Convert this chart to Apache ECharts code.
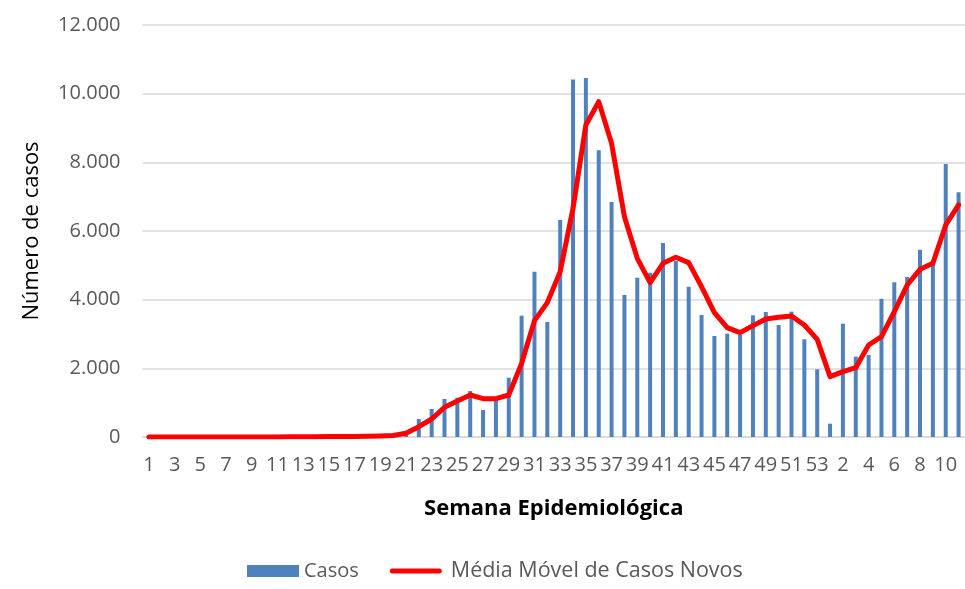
<!DOCTYPE html>
<html>
<head>
<meta charset="utf-8">
<script src="https://cdn.jsdelivr.net/npm/echarts@6/dist/echarts.min.js"></script>
<style>
  html, body { margin: 0; padding: 0; background: #fff; }
  #chart { width: 965px; height: 589px; }
</style>
</head>
<body>
<div id="chart"></div>
<script>
// semanas epidemiológicas: 1..53 do primeiro ano, depois 1..11 do segundo
const semanas = [];
for (let i = 1; i <= 53; i++) semanas.push(String(i));
for (let i = 1; i <= 11; i++) semanas.push(String(i));

const casos = [
  0, 0, 0, 0, 0, 0, 0, 0, 0, 0,
  5, 5, 10, 10, 15, 20, 25, 30, 40, 60,
  120, 524, 816, 1107, 1145, 1340, 787, 1127, 1728, 3534,
  4816, 3350, 6321, 10410, 10458, 8350, 6846, 4137, 4641, 4787,
  5651, 5127, 4379, 3554, 2942, 3010, 2971, 3545, 3641, 3263,
  3651, 2845, 1971,
  388, 3301, 2340, 2389, 4030, 4506, 4661, 5457, 5108, 7953, 7128
];

const mediaMovel = [
  0, 0, 0, 0, 0, 0, 0, 0, 0, 2,
  3, 5, 7, 9, 12, 15, 18, 22, 30, 45,
  107, 301, 524, 864, 1049, 1223, 1117, 1117, 1223, 2146,
  3389, 3913, 4816, 6661, 9089, 9768, 8554, 6418, 5205, 4496,
  5059, 5234, 5078, 4379, 3622, 3185, 3039, 3243, 3437, 3486,
  3525, 3263, 2845,
  1757, 1903, 2019, 2680, 2922, 3651, 4428, 4884, 5059, 6176, 6758
];

const chart = echarts.init(document.getElementById('chart'));

function formatMilhar(v) {
  return String(v).replace(/\B(?=(\d{3})+(?!\d))/g, '.');
}

const fonte = '"Open Sans", "Noto Sans", sans-serif';
// traço vermelho de pontas arredondadas para a legenda da linha
const iconeLinha = 'path://M2.5,0 L49.5,0 A2.5,2.5 0 0 1 49.5,5 L2.5,5 A2.5,2.5 0 0 1 2.5,0 Z';

const option = {
  animation: false,
  textStyle: { fontFamily: fonte },
  grid: {
    left: 142.5,
    right: -9.5,
    top: 25,
    bottom: 152
  },
  legend: {
    bottom: 2,
    left: 242,
    itemGap: 31,
    itemWidth: 52,
    itemHeight: 12,
    textStyle: { fontSize: 20, color: '#595959', fontFamily: fonte },
    data: [
      { name: 'Casos', icon: 'rect' },
      { name: 'Média Móvel de Casos Novos', icon: iconeLinha, textStyle: { fontSize: 21.5, padding: [0, 0, 0, 4] } }
    ]
  },
  xAxis: {
    type: 'category',
    data: semanas,
    name: 'Semana Epidemiológica',
    nameLocation: 'middle',
    nameGap: 61,
    nameTextStyle: { fontSize: 22, fontWeight: 'bold', color: '#000', fontFamily: fonte },
    axisLine: { lineStyle: { color: '#d9d9d9', width: 1.5 } },
    axisTick: { show: false },
    axisLabel: {
      interval: 1,
      margin: 18,
      fontSize: 20,
      color: '#595959',
      hideOverlap: false,
      fontFamily: fonte
    }
  },
  yAxis: {
    type: 'value',
    min: 0,
    max: 12000,
    interval: 2000,
    name: 'Número de casos',
    nameLocation: 'middle',
    nameGap: 100,
    nameTextStyle: { fontSize: 22, color: '#000', fontFamily: fonte },
    axisLine: { show: false },
    axisTick: { show: false },
    axisLabel: {
      margin: 22,
      fontSize: 20,
      color: '#595959',
      formatter: formatMilhar
    },
    splitLine: { lineStyle: { color: '#d9d9d9', width: 1.5 } }
  },
  series: [
    {
      name: 'Casos',
      type: 'bar',
      barWidth: 4,
      itemStyle: { color: '#4F81BD' },
      data: casos
    },
    {
      name: 'Média Móvel de Casos Novos',
      type: 'line',
      symbol: 'none',
      lineStyle: { color: '#FF0000', width: 5, cap: 'round', join: 'round' },
      itemStyle: { color: '#FF0000' },
      data: mediaMovel
    }
  ]
};

chart.setOption(option);
</script>
</body>
</html>
